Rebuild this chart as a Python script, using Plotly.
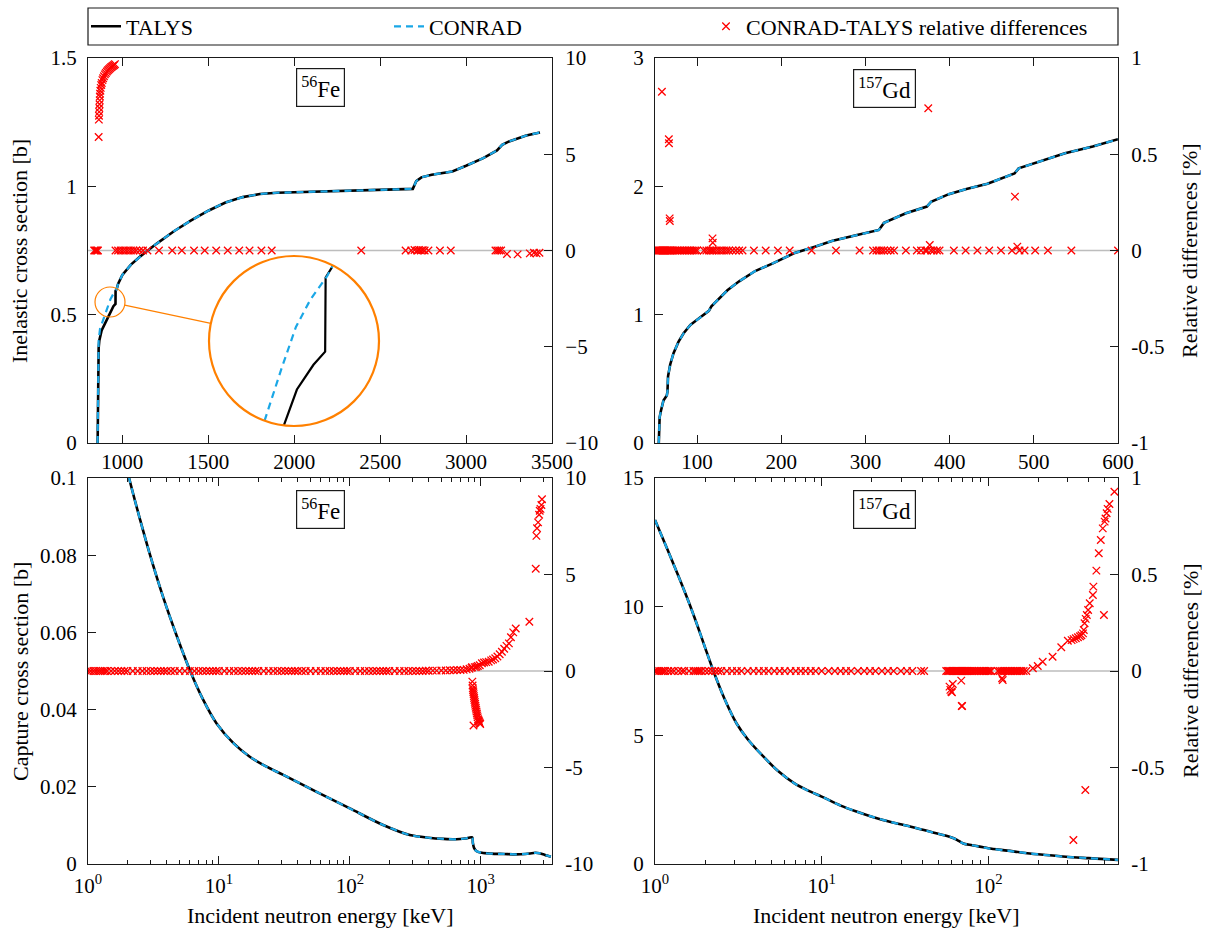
import math
import plotly.graph_objects as go

W, H = 1207, 929
FONT = "Liberation Serif"
FS_TICK = 21
FS_TEXT = 22
INK = "#1a1a1a"
CONRAD_COLOR = "#1aa7e6"
DIFF_COLOR = "#ff0000"
ZOOM_COLOR = "#ff8000"
ZERO_COLOR = "#bdbdbd"

# ---------------------------------------------------------------- data
# 56Fe inelastic cross section [b] vs incident energy [keV]
fe_inel_E_talys = [856, 858, 862, 866, 880, 900, 918, 931, 948, 960, 960.5, 967, 975, 1000,
                   1050, 1100, 1150, 1200, 1300, 1400, 1500, 1600, 1700, 1800, 1900, 2000,
                   2200, 2400, 2600, 2690, 2710, 2740, 2800, 2900, 2920, 3000, 3100, 3180,
                   3210, 3250, 3300, 3350, 3430]
fe_inel_talys = [0.0, 0.22, 0.37, 0.40, 0.44, 0.467, 0.492, 0.516, 0.533, 0.542, 0.593, 0.60,
                 0.62, 0.655, 0.695, 0.725, 0.752, 0.777, 0.825, 0.867, 0.905, 0.937, 0.958,
                 0.970, 0.975, 0.977, 0.980, 0.984, 0.988, 0.990, 1.020, 1.035, 1.045, 1.055,
                 1.058, 1.08, 1.11, 1.14, 1.162, 1.175, 1.188, 1.198, 1.21]
fe_inel_E_conrad = [856, 858, 862, 870, 880, 898, 915, 930, 945, 962, 967, 975, 1000,
                    1050, 1100, 1150, 1200, 1300, 1400, 1500, 1600, 1700, 1800, 1900, 2000,
                    2200, 2400, 2600, 2690, 2710, 2740, 2800, 2900, 2920, 3000, 3100, 3180,
                    3210, 3250, 3300, 3350, 3430]
fe_inel_conrad = [0.0, 0.25, 0.40, 0.445, 0.465, 0.495, 0.53, 0.559, 0.578, 0.594, 0.60,
                  0.62, 0.655, 0.695, 0.725, 0.752, 0.777, 0.825, 0.867, 0.905, 0.937, 0.958,
                  0.970, 0.975, 0.977, 0.980, 0.984, 0.988, 0.990, 1.020, 1.035, 1.045, 1.055,
                  1.058, 1.08, 1.11, 1.14, 1.162, 1.175, 1.188, 1.198, 1.21]
# CONRAD-TALYS relative differences [%]
fe_inel_rel_E = [836, 842, 848, 853, 858,
                 862, 863, 864, 865, 866, 867, 868, 869, 870, 872, 874, 877, 880, 884, 888,
                 893, 898, 904, 910, 916, 922, 928, 934, 940, 946, 952, 957,
                 960, 975, 990, 1005, 1020, 1035, 1050, 1065, 1080, 1100, 1120, 1146, 1213,
                 1290, 1346, 1417, 1479, 1546, 1613, 1680, 1740, 1809, 1869, 2390,
                 2648, 2681, 2700, 2715, 2726, 2737, 2748, 2759, 2781, 2848, 2911,
                 3171, 3182, 3193, 3204, 3238, 3300, 3371, 3395, 3410, 3427]
fe_inel_rel = [0, 0, 0, 0, 0,
               5.9, 6.8, 7.0, 7.2, 7.4, 7.6, 7.8, 8.0, 8.15, 8.3, 8.45, 8.6, 8.7, 8.85, 8.95,
               9.05, 9.15, 9.22, 9.3, 9.36, 9.42, 9.47, 9.52, 9.56, 9.6, 9.64, 9.68,
               0, 0, 0, 0, 0, 0, 0, 0, 0, 0, 0, 0, 0,
               0, 0, 0, 0, 0, 0, 0, 0, 0, 0, 0,
               0, 0, 0.03, 0, 0.03, 0, 0.02, 0, 0, 0, 0,
               0, 0, 0, 0, -0.18, -0.2, -0.15, -0.12, -0.15, -0.12]

# 157Gd inelastic cross section [b]
gd_inel_E = [54.5, 54.7, 55.5, 57, 60, 64, 64.8, 65.5, 68, 72, 78, 84, 92, 100, 108, 114, 117,
             125, 136, 150, 169, 190, 215, 240, 260, 290, 316, 322, 335, 348, 373, 378, 399,
             420, 445, 460, 477, 482, 510, 537, 570, 600]
gd_inel = [0.0, 0.12, 0.2, 0.25, 0.33, 0.37, 0.40, 0.52, 0.61, 0.70, 0.79, 0.855, 0.92, 0.96,
           1.0, 1.03, 1.065, 1.12, 1.19, 1.26, 1.34, 1.40, 1.478, 1.53, 1.574, 1.62, 1.66,
           1.715, 1.755, 1.79, 1.842, 1.88, 1.939, 1.98, 2.02, 2.06, 2.10, 2.14, 2.20, 2.258,
           2.31, 2.367]
gd_inel_conrad = gd_inel  # coincides with TALYS to within the line width
gd_inel_rel_E = [51, 52, 53, 54, 55, 56, 57, 58, 58.2, 59, 60, 61, 62, 63, 64, 65, 66, 66.4,
                 66.6, 67, 67.4, 67.6, 68, 69, 70, 72, 74, 76, 78, 80, 82, 84, 86, 88, 90, 92,
                 94, 96, 98, 100, 108, 111, 114, 116, 118, 118.3, 118.6, 120, 123, 126, 129,
                 132, 135, 138, 142, 146, 150, 154, 167.5, 181.5, 196, 210, 236, 265, 293, 309,
                 313, 316, 319, 322, 326, 330, 334, 348, 361, 366, 371, 373, 374.6, 376.4, 378,
                 381, 385, 388, 405, 419, 433, 447, 461, 474, 477.6, 480.4, 483, 489, 501.6,
                 516.7, 544.6, 600]
gd_inel_rel = [0, 0, 0, 0, 0, 0, 0, 0, 0.825, 0, 0, 0, 0, 0, 0, 0, 0, 0.578,
               0.557, 0, 0.167, 0.153, 0, 0, 0, 0, 0, 0, 0, 0, 0, 0, 0, 0, 0, 0,
               0, 0, 0, 0, 0, 0, 0, 0, 0, 0.063, 0.04, 0, 0, 0, 0,
               0, 0, 0, 0, 0, 0, 0, 0, 0, 0, 0, 0, 0, 0, 0,
               0, 0, 0, 0, 0, 0, 0, 0, 0, 0, 0, 0, 0.739, 0.029, 0,
               0, 0, 0, 0, 0, 0, 0, 0, 0, 0.28, 0.02, 0, 0, 0,
               0, 0, 0]

# 56Fe capture cross section [b]
fe_cap_E = [1.0, 1.5, 2.06, 2.5, 2.97, 3.76, 4.75, 6.0, 7.59, 9.6, 12.9, 17.2, 23.1, 31,
            55.7, 100, 179.5, 287, 400, 520, 650, 760, 860, 870, 890, 930, 1020, 1200, 1500,
            1860, 2200, 2620, 2800, 3000, 3200, 3430]
fe_cap = [0.149, 0.1207, 0.100, 0.0892, 0.0802, 0.0690, 0.0592, 0.0502, 0.0425, 0.0364,
          0.0313, 0.0278, 0.0252, 0.0231, 0.0187, 0.0144, 0.0101, 0.0075, 0.0068, 0.0065,
          0.0064, 0.0066, 0.0069, 0.0055, 0.0041, 0.0033, 0.0029, 0.0027, 0.0026, 0.0025,
          0.0026, 0.0029, 0.0028, 0.0025, 0.0022, 0.0019]
fe_cap_conrad = fe_cap  # coincides with TALYS to within the line width
fe_cap_rel_E = [1.0, 1.05, 1.1, 1.15, 1.2, 1.25, 1.3, 1.35, 1.4, 1.5, 1.6, 1.7, 1.8, 1.9,
                2.0, 2.2, 2.4, 2.6, 2.8, 3.0, 3.2, 3.4, 3.6, 3.8, 4.0, 4.3, 4.6,
                5.0, 5.5, 6.0, 6.5, 7.0, 7.5, 8.0, 8.5, 9.0, 9.5,
                10, 11, 12, 13, 14, 15, 16, 17, 18, 19, 20,
                22, 24, 26, 28, 30, 32, 34, 36, 38, 40, 43, 46,
                50, 55, 60, 65, 70, 75, 80, 85, 90, 95,
                100, 110, 120, 130, 140, 150, 160, 170, 180, 190, 200,
                220, 240, 260, 280, 300, 320, 340, 360, 380, 400,
                430, 460, 500, 540, 580, 620, 660,
                700, 740, 780, 820, 850,
                858, 862, 866, 870, 874, 878, 882, 886, 890, 895, 900, 905, 910, 916, 922,
                928, 934, 940, 947, 954, 961, 968, 975, 983, 990,
                880, 900, 925, 950, 983, 1020, 1060, 1100, 1150, 1200, 1241, 1290, 1340,
                1395, 1450, 1510, 1572, 1640, 1700, 1770, 1850,
                2350, 2630, 2660, 2690, 2740, 2790, 2820, 2860, 2905, 2935]
fe_cap_rel = [0, 0, 0, 0, 0, 0, 0, 0, 0, 0, 0, 0, 0, 0,
              0, 0, 0, 0, 0, 0, 0, 0, 0, 0, 0, 0, 0,
              0, 0, 0, 0, 0, 0, 0, 0, 0, 0,
              0, 0, 0, 0, 0, 0, 0, 0, 0, 0, 0,
              0, 0, 0, 0, 0, 0, 0, 0, 0, 0, 0, 0,
              0, 0, 0, 0, 0, 0, 0, 0, 0, 0,
              0, 0, 0, 0, 0, 0, 0, 0, 0, 0, 0,
              0, 0, 0, 0, 0, 0, 0, 0, 0.01, 0.01, 0.02,
              0.02, 0.03, 0.03, 0.04, 0.04, 0.05, 0.05,
              0.06, 0.09, 0.12, 0.16, 0.2,
              -0.55, -0.75, -0.9, -1.0, -1.1, -1.2, -1.3, -1.4, -1.5, -1.6, -1.7, -1.8, -1.9,
              -2.0, -2.1, -2.2, -2.3, -2.4, -2.5, -2.55, -2.6, -2.65, -2.7, -2.75, -2.82,
              0.2, 0.22, 0.26, 0.3, 0.4, 0.44, 0.46, 0.48, 0.55, 0.6, 0.66, 0.75, 0.87,
              1.0, 1.15, 1.3, 1.43, 1.75, 2.0, 2.2, 2.55,
              5.3, 7.0, 7.4, 7.7, 8.1, 8.3, 8.4, 8.6, 8.9, 9.1]

# 157Gd capture cross section [b]
gd_cap_E = [1.0, 1.2, 1.38, 1.6, 1.8, 2.0, 2.23, 2.6, 3.08, 3.6, 4.48, 5.5, 6.87, 8.3, 10, 13,
            16, 20, 26, 34.3, 45, 58.5, 62, 65.2, 70.7, 80, 100, 130, 171, 220, 292, 400,
            500, 600]
gd_cap = [13.37, 12.15, 11.2, 10.15, 9.25, 8.4, 7.54, 6.45, 5.47, 4.85, 4.17, 3.6, 3.13,
          2.85, 2.62, 2.27, 2.05, 1.84, 1.63, 1.45, 1.25, 1.06, 1.0, 0.93, 0.80, 0.73, 0.61,
          0.52, 0.42, 0.35, 0.28, 0.227, 0.19, 0.16]
gd_cap_conrad = gd_cap  # coincides with TALYS to within the line width
gd_cap_rel_E = [1.0, 1.03, 1.06, 1.09, 1.12, 1.15, 1.2, 1.25, 1.3, 1.38, 1.45, 1.5, 1.6, 1.7,
                1.75, 1.8, 1.85, 1.9, 2.0, 2.1, 2.2, 2.3, 2.4, 2.5, 2.7, 2.9, 3.1, 3.3, 3.6,
                3.9, 4.2, 4.5, 4.8, 5.2, 5.6, 6.0, 6.5, 7.0, 7.5, 8.0, 8.6, 9.2, 10, 11, 12,
                13, 14, 15, 16.5, 18, 19.5, 21, 23, 25, 27, 29.9, 32.5, 35, 39.5, 41.2,
                55.9, 57, 58, 59, 60, 61, 62, 63, 64, 65, 66, 67, 68, 69, 70, 71, 72, 73, 74,
                75, 76, 78, 80, 82, 84, 86, 88, 90, 92, 94, 96, 98, 100, 102, 104,
                114, 117, 120, 123, 126, 129, 132, 135, 138, 141, 144, 147, 150, 154, 158,
                163, 169,
                58.5, 59.2, 59.9, 60.5, 61.2, 68.8, 69.3, 69.6, 121, 122,
                185, 198, 212, 243, 274, 300, 316, 325, 335, 345, 355, 362, 370, 374, 378,
                384, 390, 397, 406, 424, 427, 445, 460, 473, 486, 499, 505, 513, 520, 533, 571,
                494, 382, 324]
gd_cap_rel = [0, 0, 0, 0, 0, 0, 0, 0, 0, 0, 0, 0, 0, 0,
              0, 0, 0, 0, 0, 0, 0, 0, 0, 0, 0, 0, 0, 0, 0,
              0, 0, 0, 0, 0, 0, 0, 0, 0, 0, 0, 0, 0, 0, 0, 0,
              0, 0, 0, 0, 0, 0, 0, 0, 0, 0, 0, 0, 0, 0, 0,
              0, 0, 0, 0, 0, 0, 0, 0, 0, 0, 0, 0, 0, 0, 0, 0, 0, 0, 0,
              0, 0, 0, 0, 0, 0, 0, 0, 0, 0, 0, 0, 0, 0, 0, 0,
              0, 0, 0, 0, 0, 0, 0, 0, 0, 0, 0, 0, 0, 0, 0,
              0, 0,
              -0.081, -0.098, -0.107, -0.11, -0.067, -0.05, -0.181, -0.181, -0.038, -0.047,
              0.014, 0.026, 0.048, 0.074, 0.123, 0.157, 0.16, 0.165, 0.17, 0.175, 0.18, 0.185,
              0.195, 0.212, 0.247, 0.27, 0.29, 0.316, 0.351, 0.394, 0.437, 0.52, 0.61, 0.679,
              0.739, 0.774, 0.79, 0.817, 0.84, 0.865, 0.929,
              0.29, -0.617, -0.876]

# axis ranges
fe_inel_xrange = [800, 3500]
gd_inel_xrange = [50, 600]
fe_cap_xmax = 3500
gd_cap_xmax = 600

# ---------------------------------------------------------------- layout helpers
def fx(p):
    return p / W


def fy(p):
    return 1 - p / H


COL = {"L": (88, 552), "R": (655, 1118)}
ROW = {"T": (58, 443), "B": (478, 864)}

tick_font = dict(family=FONT, size=FS_TICK, color="black")
axis_base = dict(showline=True, linecolor=INK, linewidth=1.2, ticks="inside", ticklen=8,
                 tickwidth=1, tickcolor=INK, showgrid=False, zeroline=False,
                 tickfont=tick_font, exponentformat="none", separatethousands=False)

fig = go.Figure()


def add_series(xa, ya, ya2, E_t, s_t, E_c, s_c, E_r, r, legend, shape="linear"):
    fig.add_trace(go.Scatter(x=E_t, y=s_t, mode="lines", name="TALYS",
                             line=dict(color="black", width=2.6, shape=shape, smoothing=0.8),
                             xaxis=xa, yaxis=ya, showlegend=legend, legend="legend"))
    fig.add_trace(go.Scatter(x=E_c, y=s_c, mode="lines", name="CONRAD",
                             line=dict(color=CONRAD_COLOR, width=2.2, dash="7px,5px",
                                       shape=shape, smoothing=0.8),
                             xaxis=xa, yaxis=ya, showlegend=legend, legend="legend2"))
    fig.add_trace(go.Scatter(x=E_r, y=r, mode="markers", name="CONRAD-TALYS relative differences",
                             marker=dict(symbol="x-thin", size=7.5, color=DIFF_COLOR,
                                         line=dict(width=1.3, color=DIFF_COLOR)),
                             xaxis=xa, yaxis=ya2, showlegend=legend, legend="legend3"))


add_series("x", "y", "y2", fe_inel_E_talys, fe_inel_talys, fe_inel_E_conrad, fe_inel_conrad,
           fe_inel_rel_E, fe_inel_rel, True)
add_series("x2", "y3", "y4", gd_inel_E, gd_inel, gd_inel_E, gd_inel_conrad,
           gd_inel_rel_E, gd_inel_rel, False)
add_series("x3", "y5", "y6", fe_cap_E, fe_cap, fe_cap_E, fe_cap_conrad,
           fe_cap_rel_E, fe_cap_rel, False, shape="spline")
add_series("x4", "y7", "y8", gd_cap_E, gd_cap, gd_cap_E, gd_cap_conrad,
           gd_cap_rel_E, gd_cap_rel, False, shape="spline")

layout = dict(width=W, height=H, autosize=False,
              margin=dict(l=0, r=0, t=0, b=0, pad=0, autoexpand=False),
              paper_bgcolor="white", plot_bgcolor="white",
              font=dict(family=FONT, size=FS_TEXT, color="black"))

minor_log = [m * 10 ** k for k in range(0, 4) for m in range(2, 10)]


def xdom(c):
    return [fx(COL[c][0]), fx(COL[c][1])]


def ydom(r):
    return [fy(ROW[r][1]), fy(ROW[r][0])]


# top row: linear energy axes
layout["xaxis"] = dict(axis_base, domain=xdom("L"), range=fe_inel_xrange, anchor="y",
                       mirror="ticks", dtick=500, tick0=0, ticklabelstandoff=0)
layout["xaxis2"] = dict(axis_base, domain=xdom("R"), range=gd_inel_xrange, anchor="y3",
                        mirror="ticks", dtick=100, tick0=0, ticklabelstandoff=0)
# bottom row: logarithmic energy axes
dec_vals = [1, 10, 100, 1000]
dec_text = ["10<sup>0</sup>", "10<sup>1</sup>", "10<sup>2</sup>", "10<sup>3</sup>"]
for name, anchor, col, xmax in (("xaxis3", "y5", "L", fe_cap_xmax), ("xaxis4", "y7", "R", gd_cap_xmax)):
    layout[name] = dict(axis_base, domain=xdom(col), type="log",
                        range=[0, math.log10(xmax)], anchor=anchor, mirror="ticks",
                        tickvals=[v for v in dec_vals if v <= xmax],
                        ticktext=[t for v, t in zip(dec_vals, dec_text) if v <= xmax],
                        ticklabelstandoff=3,
                        minor=dict(ticks="inside", ticklen=4, tickcolor=INK, tickwidth=1,
                                   tickvals=[v for v in minor_log if v <= xmax]))

# cross-section axes (left)
layout["yaxis"] = dict(axis_base, domain=ydom("T"), range=[0, 1.5], anchor="x", dtick=0.5,
                       ticklabelstandoff=6)
layout["yaxis3"] = dict(axis_base, domain=ydom("T"), range=[0, 3], anchor="x2", dtick=1,
                        ticklabelstandoff=6)
layout["yaxis5"] = dict(axis_base, domain=ydom("B"), range=[0, 0.1], anchor="x3", dtick=0.02,
                        ticklabelstandoff=6)
layout["yaxis7"] = dict(axis_base, domain=ydom("B"), range=[0, 15], anchor="x4", dtick=5,
                        ticklabelstandoff=6)

# relative-difference axes (right)
pct10 = [-10, -5, 0, 5, 10]
pct1 = [-1, -0.5, 0, 0.5, 1]
right_axes = {
    "yaxis2": ("y", "x", [-10, 10], pct10, ["\u221210", "\u22125", "0", "5", "10"]),
    "yaxis4": ("y3", "x2", [-1, 1], pct1, ["-1", "-0.5", "0", "0.5", "1"]),
    "yaxis6": ("y5", "x3", [-10, 10], pct10, ["-10", "-5", "0", "5", "10"]),
    "yaxis8": ("y7", "x4", [-1, 1], pct1, ["-1", "-0.5", "0", "0.5", "1"]),
}
for name, (over, anchor, rng, vals, text) in right_axes.items():
    layout[name] = dict(axis_base, overlaying=over, anchor=anchor, side="right", range=rng,
                        tickvals=vals, ticktext=text, ticklabelstandoff=8)

# ---------------------------------------------------------------- zoom inset (56Fe threshold)
sx = (COL["L"][1] - COL["L"][0]) / (fe_inel_xrange[1] - fe_inel_xrange[0])   # px per keV
sy = (ROW["T"][1] - ROW["T"][0]) / 1.5                                          # px per b
small_c = (110, 302)    # px centre of the small lens
small_r = 15
big_c = (294, 341)      # px centre of the magnified view
big_r = 85

cx = fe_inel_xrange[0] + (small_c[0] - COL["L"][0]) / sx
cy = (ROW["T"][1] - small_c[1]) / sy
rx = small_r / sx
ry = small_r / sy


def clip_to_lens(xs, ys):
    """Keep only the part of a polyline inside the lens ellipse (in data units)."""
    px, py = [], []
    pts = [((x - cx) / rx, (y - cy) / ry) for x, y in zip(xs, ys)]
    for (u0, v0), (u1, v1) in zip(pts[:-1], pts[1:]):
        du, dv = u1 - u0, v1 - v0
        a = du * du + dv * dv
        if a == 0:
            continue
        b = 2 * (u0 * du + v0 * dv)
        c = u0 * u0 + v0 * v0 - 1
        disc = b * b - 4 * a * c
        if disc <= 0:
            continue
        s = math.sqrt(disc)
        t0 = max(0.0, (-b - s) / (2 * a))
        t1 = min(1.0, (-b + s) / (2 * a))
        if t0 >= t1:
            continue
        for t in (t0, t1):
            x = cx + (u0 + t * du) * rx
            y = cy + (v0 + t * dv) * ry
            if not px or abs(px[-1] - x) > 1e-9 or abs(py[-1] - y) > 1e-12:
                px.append(x)
                py.append(y)
    return px, py


tx, ty = clip_to_lens(fe_inel_E_talys, fe_inel_talys)
cxs, cys = clip_to_lens(fe_inel_E_conrad, fe_inel_conrad)
fig.add_trace(go.Scatter(x=tx, y=ty, mode="lines", line=dict(color="black", width=2.2),
                         xaxis="x5", yaxis="y9", showlegend=False, hoverinfo="skip"))
fig.add_trace(go.Scatter(x=cxs, y=cys, mode="lines",
                         line=dict(color=CONRAD_COLOR, width=2.2, dash="7px,5px"),
                         xaxis="x5", yaxis="y9", showlegend=False, hoverinfo="skip"))
layout["xaxis5"] = dict(domain=[fx(big_c[0] - big_r), fx(big_c[0] + big_r)],
                        range=[cx - rx, cx + rx], anchor="y9", visible=False)
layout["yaxis9"] = dict(domain=[fy(big_c[1] + big_r), fy(big_c[1] - big_r)],
                        range=[cy - ry, cy + ry], anchor="x5", visible=False)

# ---------------------------------------------------------------- shapes
shapes = []
for xref, yref in (("x domain", "y2"), ("x2 domain", "y4"), ("x3 domain", "y6"), ("x4 domain", "y8")):
    shapes.append(dict(type="line", xref=xref, yref=yref, x0=0, x1=1, y0=0, y1=0,
                       line=dict(color=ZERO_COLOR, width=1.5), layer="below"))

dxc, dyc = big_c[0] - small_c[0], big_c[1] - small_c[1]
dist = math.hypot(dxc, dyc)
ux, uy = dxc / dist, dyc / dist
shapes.append(dict(type="circle", xref="paper", yref="paper",
                   x0=fx(small_c[0] - small_r), x1=fx(small_c[0] + small_r),
                   y0=fy(small_c[1] + small_r), y1=fy(small_c[1] - small_r),
                   line=dict(color=ZOOM_COLOR, width=1.2), layer="above"))
shapes.append(dict(type="line", xref="paper", yref="paper",
                   x0=fx(small_c[0] + ux * small_r), y0=fy(small_c[1] + uy * small_r),
                   x1=fx(big_c[0] - ux * big_r), y1=fy(big_c[1] - uy * big_r),
                   line=dict(color=ZOOM_COLOR, width=1.2), layer="above"))
shapes.append(dict(type="circle", xref="paper", yref="paper",
                   x0=fx(big_c[0] - big_r), x1=fx(big_c[0] + big_r),
                   y0=fy(big_c[1] + big_r), y1=fy(big_c[1] - big_r),
                   line=dict(color=ZOOM_COLOR, width=2.2), layer="above"))
# legend frame
shapes.append(dict(type="rect", xref="paper", yref="paper", x0=fx(88), x1=fx(1118),
                   y0=fy(45), y1=fy(8), line=dict(color=INK, width=1.2), layer="above"))
layout["shapes"] = shapes

# ---------------------------------------------------------------- legends
leg_common = dict(yanchor="middle", y=fy(26.5), xanchor="left", orientation="h",
                  bgcolor="rgba(0,0,0,0)", borderwidth=0,
                  font=dict(family=FONT, size=FS_TEXT, color="black"))
layout["legend"] = dict(leg_common, x=fx(86))
layout["legend2"] = dict(leg_common, x=fx(389))
layout["legend3"] = dict(leg_common, x=fx(706))

# ---------------------------------------------------------------- text
ann = []
for xc, yc, txt in ((320, 88, "<sup>56</sup>Fe"), (884, 89, "<sup>157</sup>Gd"),
                    (320, 509, "<sup>56</sup>Fe"), (884, 509, "<sup>157</sup>Gd")):
    ann.append(dict(x=fx(xc), y=fy(yc), xref="paper", yref="paper", text=txt,
                    showarrow=False, xanchor="center", yanchor="middle",
                    bordercolor=INK, borderwidth=1.2, borderpad=4, bgcolor="white",
                    font=dict(family=FONT, size=23)))
for xc, yc, txt in ((20, 251, "Inelastic cross section [b]"),
                    (20, 672, "Capture cross section [b]"),
                    (1190, 251, "Relative differences [%]"),
                    (1190, 671, "Relative differences [%]")):
    ann.append(dict(x=fx(xc), y=fy(yc), xref="paper", yref="paper", text=txt,
                    textangle=-90, showarrow=False, xanchor="center", yanchor="middle",
                    font=dict(family=FONT, size=FS_TEXT)))
for xc in (320, 886):
    ann.append(dict(x=fx(xc), y=fy(915), xref="paper", yref="paper",
                    text="Incident neutron energy [keV]", showarrow=False,
                    xanchor="center", yanchor="middle", font=dict(family=FONT, size=FS_TEXT)))
layout["annotations"] = ann

fig.update_layout(**layout)
fig.write_html("out.html")
